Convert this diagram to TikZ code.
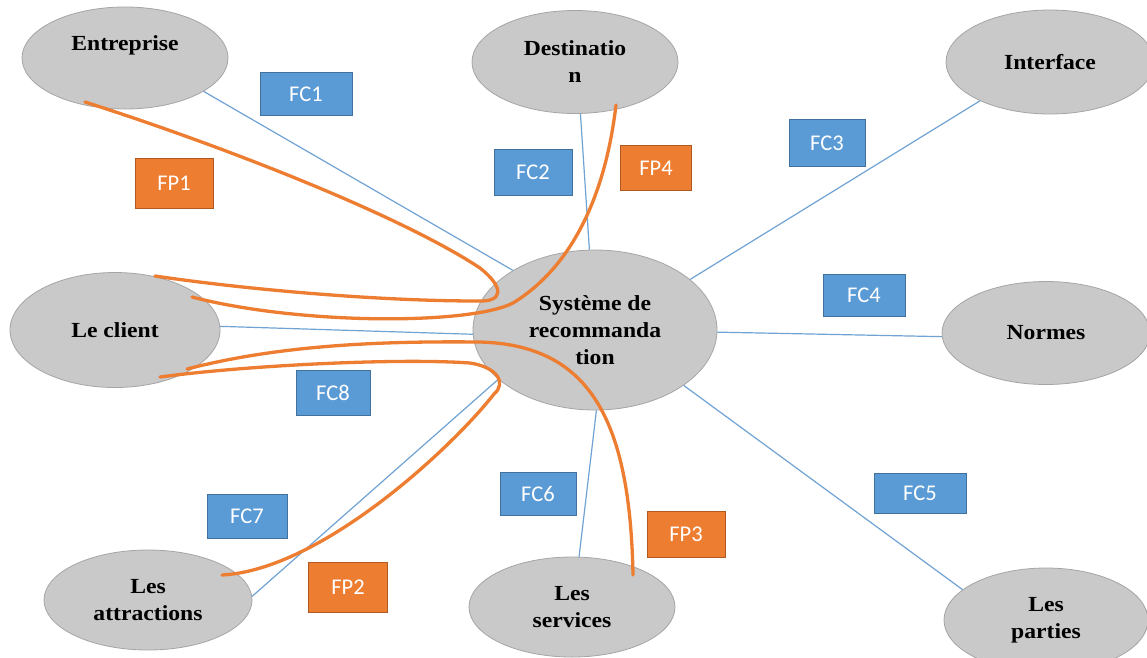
\documentclass[tikz,border=0pt]{standalone}
\usepackage{fontspec}
\setmainfont{Liberation Serif}
\newfontfamily\ellfont[FakeStretch=1.1]{Liberation Serif}
\newfontfamily\boxfont{Carlito}
\usetikzlibrary{shapes.geometric,calc}

\definecolor{ellfill}{RGB}{201,201,201}
\definecolor{elldraw}{RGB}{165,165,165}
\definecolor{fcblue}{RGB}{91,155,213}
\definecolor{fcedge}{RGB}{65,113,156}
\definecolor{fporange}{RGB}{237,125,49}
\definecolor{fpedge}{RGB}{174,90,33}
\definecolor{linkblue}{RGB}{112,163,212}

\tikzset{
  actor/.style={ellipse, fill=ellfill, draw=elldraw, line width=0.8pt,
    inner sep=0pt, align=center,
    font={\ellfont\bfseries\fontsize{21.5}{27}\selectfont}},
  fcbox/.style={rectangle, fill=fcblue, draw=fcedge, line width=0.9pt,
    inner sep=0pt, text=white, font={\boxfont\fontsize{22.5}{26}\selectfont}},
  fpbox/.style={rectangle, fill=fporange, draw=fpedge, line width=0.9pt,
    inner sep=0pt, text=white, font={\boxfont\fontsize{22.5}{26}\selectfont}},
  fcline/.style={draw=linkblue, line width=1.2pt},
  fpcurve/.style={draw=fporange, line width=3.3pt, line cap=round}
}

\begin{document}
\begin{tikzpicture}[x=1pt, y=-1pt]
  \useasboundingbox (0,0) rectangle (1147,657);
  \fill[white] (0,0) rectangle (1147,657);

  % actors around the system
  \node[actor, minimum width=206pt, minimum height=102pt] (ent) at (125,58) {};
  \node[font={\ellfont\bfseries\fontsize{21.5}{27}\selectfont}] (enttxt) at ([yshift=13pt]ent.center) {Entreprise};
  \node[actor, minimum width=206pt, minimum height=103pt] (dst) at (575,62) {Destinatio\\n};
  \node[actor, minimum width=208pt, minimum height=104pt] (itf) at (1050,62) {Interface};
  \node[actor, minimum width=210pt, minimum height=115pt] (cli) at (115,330) {Le client};
  \node[actor, minimum width=208pt, minimum height=103pt] (nrm) at (1046,333) {Normes};
  \node[actor, minimum width=208pt, minimum height=100pt] (att) at (148,600) {Les\\attractions};
  \node[actor, minimum width=206pt, minimum height=100pt] (srv) at (572,607) {Les\\services};
  \node[actor, minimum width=204pt, minimum height=104pt] (prt) at (1046,620) {Les\\parties};

  % central system
  \node[actor, minimum width=244pt, minimum height=160pt] (sys) at (595,330) {Système de\\recommanda\\tion};

  % straight links (FC)
  \draw[fcline] (ent.-23) -- (sys.144);
  \draw[fcline] (dst.-84) -- (sys.94);
  \draw[fcline] (itf.-151) -- (sys.28);
  \draw[fcline] (nrm.182) -- (sys.-1);
  \draw[fcline] (prt.160) -- (sys.-32);
  \draw[fcline] (srv.82) -- (sys.-89);
  \draw[fcline] (att.2) -- (sys.-153);
  \draw[fcline] (cli.2) -- (sys.182);

  % curved links (FP), passing by the system
  \draw[fpcurve] ($(ent.center)+(-40,44)$) .. controls (220,145) and (400,215) .. (480,268)
    .. controls (505,288) and (503,302) .. (478,301)
    .. controls (380,301) and (250,290) .. ($(cli.center)+(40,-54)$);
  \draw[fpcurve] ($(dst.center)+(41,43)$) .. controls (606,190) and (575,265) .. (513,303)
    .. controls (470,325) and (300,325) .. ($(cli.center)+(77,-33)$);
  \draw[fpcurve] ($(cli.center)+(72,39)$) .. controls (280,345) and (380,341) .. (480,342)
    .. controls (590,345) and (630,420) .. ($(srv.center)+(61,-32)$);
  \draw[fpcurve] ($(cli.center)+(45,47)$) .. controls (250,365) and (400,358) .. (470,363)
    .. controls (497,367) and (507,383) .. (494,394)
    .. controls (450,450) and (320,570) .. ($(att.center)+(74,-25)$);

  % function labels
  \node[fcbox, minimum width=92pt, minimum height=43pt] (fc1) at (306,94) {FC1};
  \node[fpbox, minimum width=78pt, minimum height=50pt] (fp1) at (174,183) {FP1};
  \node[fcbox, minimum width=78pt, minimum height=46pt] (fc2) at (533,172) {FC2};
  \node[fpbox, minimum width=71pt, minimum height=45pt] (fp4) at (656,168) {FP4};
  \node[fcbox, minimum width=76pt, minimum height=47pt] (fc3) at (827,143) {FC3};
  \node[fcbox, minimum width=82pt, minimum height=42pt] (fc4) at (864,295) {FC4};
  \node[fcbox, minimum width=74pt, minimum height=45pt] (fc8) at (333,393) {FC8};
  \node[fcbox, minimum width=92pt, minimum height=40pt] (fc5) at (920,493) {FC5};
  \node[fcbox, minimum width=76pt, minimum height=43pt] (fc6) at (538,494) {FC6};
  \node[fpbox, minimum width=78pt, minimum height=46pt] (fp3) at (686,534) {FP3};
  \node[fcbox, minimum width=80pt, minimum height=44pt] (fc7) at (247,516) {FC7};
  \node[fpbox, minimum width=79pt, minimum height=50pt] (fp2) at (348,587) {FP2};
\end{tikzpicture}
\end{document}
